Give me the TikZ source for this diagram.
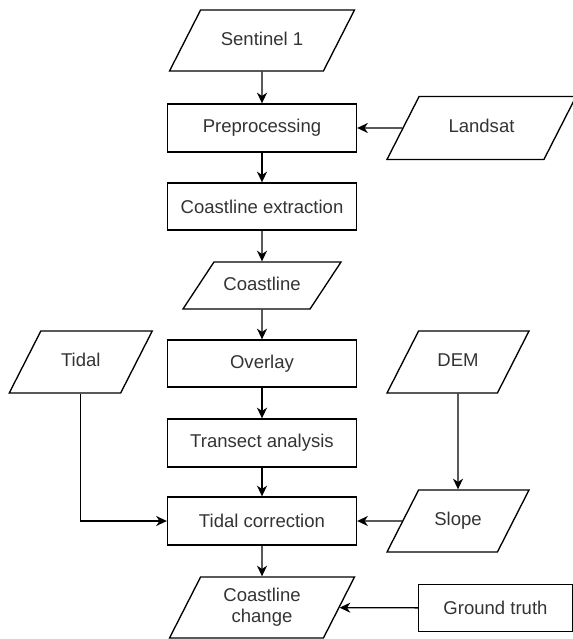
\documentclass[tikz,border=0pt]{standalone}
\usepackage{fontspec}
\setmainfont{Liberation Sans}
\usetikzlibrary{shapes.geometric, arrows.meta}

\tikzset{
  proc/.style={rectangle, draw, line width=1pt, minimum width=141.75pt, minimum height=36pt, inner sep=0pt},
  data/.style={trapezium, draw, line width=1pt, trapezium left angle=63, trapezium right angle=117,
    trapezium stretches body, inner xsep=0pt, text height=10pt, text depth=3pt, align=center},
  flow/.style={-{Stealth[length=8pt, width=7.5pt, inset=2.5pt]}, line width=1pt}
}

\begin{document}
\begin{tikzpicture}[x=0.75pt, y=-0.75pt, every node/.style={font=\fontsize{13.9}{16}\selectfont, text=black!80}]
  \useasboundingbox (0,0) rectangle (573,639);

  % Main column
  \node (sentinel) [data, minimum width=138.75pt, inner ysep=16.4pt] at (262,40.5) {Sentinel 1};
  \node (preproc) [proc] at (262,128) {Preprocessing};
  \node (extract) [proc, minimum height=35.25pt] at (262,206.5) {Coastline extraction};
  \node (coast) [data, trapezium left angle=56.6, trapezium right angle=123.4, minimum width=118.5pt, inner ysep=11.1pt] at (262,285.5) {Coastline};
  \node (overlay) [proc, minimum height=35.25pt] at (262,363.5) {Overlay};
  \node (transect) [proc] at (262,443) {Transect analysis};
  \node (tidalcorr) [proc] at (262,521) {Tidal correction};
  \node (change) [data, text height=, text depth=, minimum width=138.75pt, inner ysep=8.4pt] at (262,607.5) {Coastline\\change};

  % Side inputs
  \node (landsat) [data, minimum width=141.75pt, inner ysep=17.1pt] at (481.5,128) {Landsat};
  \node (tidal) [data, minimum width=107.25pt, inner ysep=16.75pt] at (80.75,362) {Tidal};
  \node (dem) [data, minimum width=106.5pt, inner ysep=16.75pt] at (458,362) {DEM};
  \node (slope) [data, minimum width=106.5pt, inner ysep=16.75pt] at (458,521) {Slope};
  \node (ground) [proc, minimum width=115.5pt, minimum height=35.25pt] at (495.5,608) {Ground truth};

  % Main flow
  \draw[flow] (sentinel) -- (preproc);
  \draw[flow] (preproc) -- (extract);
  \draw[flow] (extract) -- (coast);
  \draw[flow] (coast) -- (overlay);
  \draw[flow] (overlay) -- (transect);
  \draw[flow] (transect) -- (tidalcorr);
  \draw[flow] (tidalcorr) -- (change);

  % Inputs into the flow
  \draw[flow] (landsat) -- (preproc);
  \draw[flow] (tidal.south -| tidal.center) |- (tidalcorr.west);
  \draw[flow] (dem) -- (slope);
  \draw[flow] (slope) -- (tidalcorr);
  \draw[flow] (ground) -- (change);
\end{tikzpicture}
\end{document}
